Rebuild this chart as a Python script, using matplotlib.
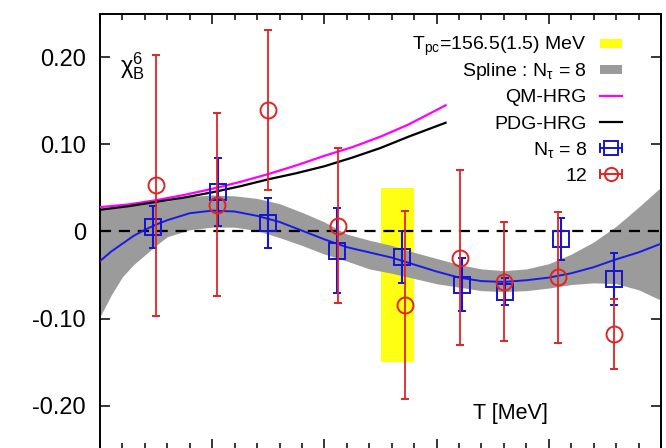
import matplotlib
matplotlib.use('Agg')
import matplotlib.pyplot as plt
from matplotlib.lines import Line2D
from matplotlib.patches import Rectangle
import numpy as np

plt.rcParams['font.family'] = ['Liberation Sans', 'DejaVu Sans']
plt.rcParams['mathtext.fontset'] = 'custom'
plt.rcParams['mathtext.rm'] = 'Liberation Sans'
plt.rcParams['mathtext.it'] = 'Liberation Sans:italic'
plt.rcParams['mathtext.bf'] = 'Liberation Sans:bold'
plt.rcParams['mathtext.sf'] = 'Liberation Sans'
plt.rcParams['mathtext.default'] = 'regular'

# ---------------- data ----------------
# Nt = 8 lattice data
T8 = [134.7, 140.5, 145.0, 151.1, 156.9, 162.3, 166.1, 171.1, 175.8]
chi8 = [0.005, 0.045, 0.0095, -0.022, -0.029, -0.061, -0.069, -0.009, -0.055]
err8 = [0.024, 0.039, 0.0285, 0.049, 0.030, 0.030, 0.015, 0.024, 0.030]

# Nt = 12 lattice data
T12 = [135.0, 140.45, 145.0, 151.2, 157.2, 162.1, 166.0, 170.85, 175.85]
chi12 = [0.053, 0.031, 0.140, 0.0065, -0.0845, -0.030, -0.0575, -0.0527, -0.118]
err12 = [0.150, 0.1055, 0.092, 0.089, 0.1085, 0.101, 0.068, 0.0755, 0.040]

# spline fit (Nt = 8) with error band
T_spl = [130, 131, 132, 133, 134, 135, 136, 138, 140, 142, 144, 146, 148,
         150, 152, 154, 156, 158, 160, 162, 164, 166, 168, 170, 172, 174,
         176, 178, 180]
spl_mid = [-0.034, -0.023, -0.014, -0.005, 0.002, 0.008, 0.013, 0.021,
           0.024, 0.023, 0.018, 0.011, 0.001, -0.009, -0.018, -0.024,
           -0.030, -0.038, -0.046, -0.053, -0.057, -0.058, -0.056, -0.053,
           -0.048, -0.041, -0.032, -0.024, -0.014]
spl_hi = [0.025, 0.0265, 0.028, 0.030, 0.032, 0.0335, 0.035, 0.040, 0.042,
          0.041, 0.038, 0.032, 0.022, 0.011, -0.003, -0.010, -0.016, -0.024,
          -0.031, -0.038, -0.043, -0.045, -0.043, -0.037, -0.026, -0.012,
          0.006, 0.028, 0.051]
spl_lo = [-0.098, -0.073, -0.052, -0.038, -0.027, -0.016, -0.006, 0.002,
          0.005, 0.005, 0.001, -0.007, -0.016, -0.026, -0.034, -0.043,
          -0.048, -0.054, -0.060, -0.064, -0.068, -0.069, -0.068, -0.065,
          -0.061, -0.059, -0.060, -0.067, -0.079]

# HRG curves
T_hrg = [130, 132.5, 135, 137.5, 140, 142.5, 145, 147.5, 150, 152.5, 155,
         157.5, 160.8]
qm_hrg = [0.028, 0.031, 0.036, 0.042, 0.049, 0.057, 0.066, 0.076, 0.087,
          0.097, 0.109, 0.123, 0.145]
pdg_hrg = [0.025, 0.029, 0.034, 0.039, 0.045, 0.052, 0.060, 0.067, 0.075,
           0.085, 0.096, 0.109, 0.125]

# pseudo-critical temperature band
Tpc, dTpc = 156.5, 1.5
tpc_band = (-0.15, 0.05)

yticks = [-0.20, -0.10, 0.0, 0.10, 0.20]
yticklabels = ['-0.20', '-0.10', '0', '0.10', '0.20']

legend_labels = [r'T$_{\mathrm{pc}}$=156.5(1.5) MeV', r'Spline : N$_\tau$ = 8',
                 'QM-HRG', 'PDG-HRG', r'N$_\tau$ = 8', '12']

# ---------------- style ----------------
BLUE = '#1414d2'
LINEBLUE = '#1a1ae6'
RED = '#e02424'
GRAY = '#9b9b9b'
YELLOW = '#ffff14'
MAGENTA = '#ff00ff'

W, H = 666, 448
AX_L, AX_R, AX_T, AX_B = 100, 661, 14, 449

fig = plt.figure(figsize=(W / 100, H / 100), dpi=100)
ax = fig.add_axes([AX_L / W, (H - AX_B) / H, (AX_R - AX_L) / W,
                   (AX_B - AX_T) / H])
ax.set_xlim(130, 180)
ax.set_ylim(-0.25, 0.25)

ax.fill_between([Tpc - dTpc, Tpc + dTpc], tpc_band[0], tpc_band[1],
                color=YELLOW, lw=0, zorder=1)
ax.fill_between(T_spl, spl_lo, spl_hi, color=GRAY, lw=0, zorder=2)
ax.axhline(0, color='k', lw=1.6, dashes=(5, 3.5), zorder=3)
ax.plot(T_hrg, qm_hrg, color=MAGENTA, lw=1.6, zorder=4)
ax.plot(T_hrg, pdg_hrg, color='k', lw=1.6, zorder=4)
ax.plot(T_spl, spl_mid, color=LINEBLUE, lw=1.4, zorder=5)

ax.errorbar(T8, chi8, yerr=err8, fmt='s', ms=12, mfc='none', mec=BLUE,
            mew=1.4, ecolor=BLUE, elinewidth=1.5, capsize=3, capthick=1.5,
            zorder=6)
ax.errorbar(T12, chi12, yerr=err12, fmt='o', ms=11.5, mfc='none', mec=RED,
            mew=1.4, ecolor=RED, elinewidth=1.3, capsize=3, capthick=1.3,
            zorder=7)

ax.set_xticks(np.arange(130, 181, 10))
ax.set_xticks(np.arange(130, 181, 2), minor=True)
ax.set_yticks(yticks)
ax.set_yticklabels(yticklabels)
ax.tick_params(which='both', direction='in', top=True, right=True, width=1.1,
               labelbottom=False)
ax.tick_params(which='major', length=7)
ax.tick_params(which='minor', length=4)
ax.tick_params(axis='y', labelsize=17, pad=10)
for s in ax.spines.values():
    s.set_linewidth(1.4)

ax.text(131.8, 0.190, r'$\mathrm{\chi}_\mathrm{B}^6$', fontsize=17,
        ha='left', va='center')
ax.text(166.6, -0.209, 'T [MeV]', fontsize=15.5, ha='center', va='center')


# ---------------- legend (gnuplot style: text right, key sample left) ----
def fx(px):
    return (px - AX_L) / (AX_R - AX_L)


def fy(py):
    return 1 - (py - AX_T) / (AX_B - AX_T)


tr = ax.transAxes
row0, drow = 43.5, 26.1
text_right, k0, k1 = 587, 600, 622
for i, lab in enumerate(legend_labels):
    yc = row0 + i * drow
    ax.text(fx(text_right), fy(yc + 6.8), lab, transform=tr, fontsize=14,
            ha='right', va='baseline', zorder=10)
    if i in (0, 1):
        col = YELLOW if i == 0 else GRAY
        ax.add_patch(Rectangle((fx(k0), fy(yc + 4.5)), fx(k1) - fx(k0),
                               fy(yc - 4.5) - fy(yc + 4.5), transform=tr,
                               facecolor=col, lw=0, zorder=10))
    elif i in (2, 3):
        col = MAGENTA if i == 2 else 'k'
        ax.add_line(Line2D([fx(k0), fx(k1)], [fy(yc), fy(yc)], transform=tr,
                           color=col, lw=1.6, zorder=10))
    else:
        col = BLUE if i == 4 else RED
        mk = 's' if i == 4 else 'o'
        ax.add_line(Line2D([fx(k0), fx(k1)], [fy(yc), fy(yc)], transform=tr,
                           color=col, lw=1.4, zorder=10))
        for kx in (k0, k1):
            ax.add_line(Line2D([fx(kx), fx(kx)], [fy(yc - 4), fy(yc + 4)],
                               transform=tr, color=col, lw=1.4, zorder=10))
        ax.add_line(Line2D([fx((k0 + k1) / 2)], [fy(yc)], transform=tr,
                           marker=mk, ms=9.5, mfc='none', mec=col, mew=1.4,
                           ls='none', zorder=10))

fig.savefig('out.png', dpi=100)
